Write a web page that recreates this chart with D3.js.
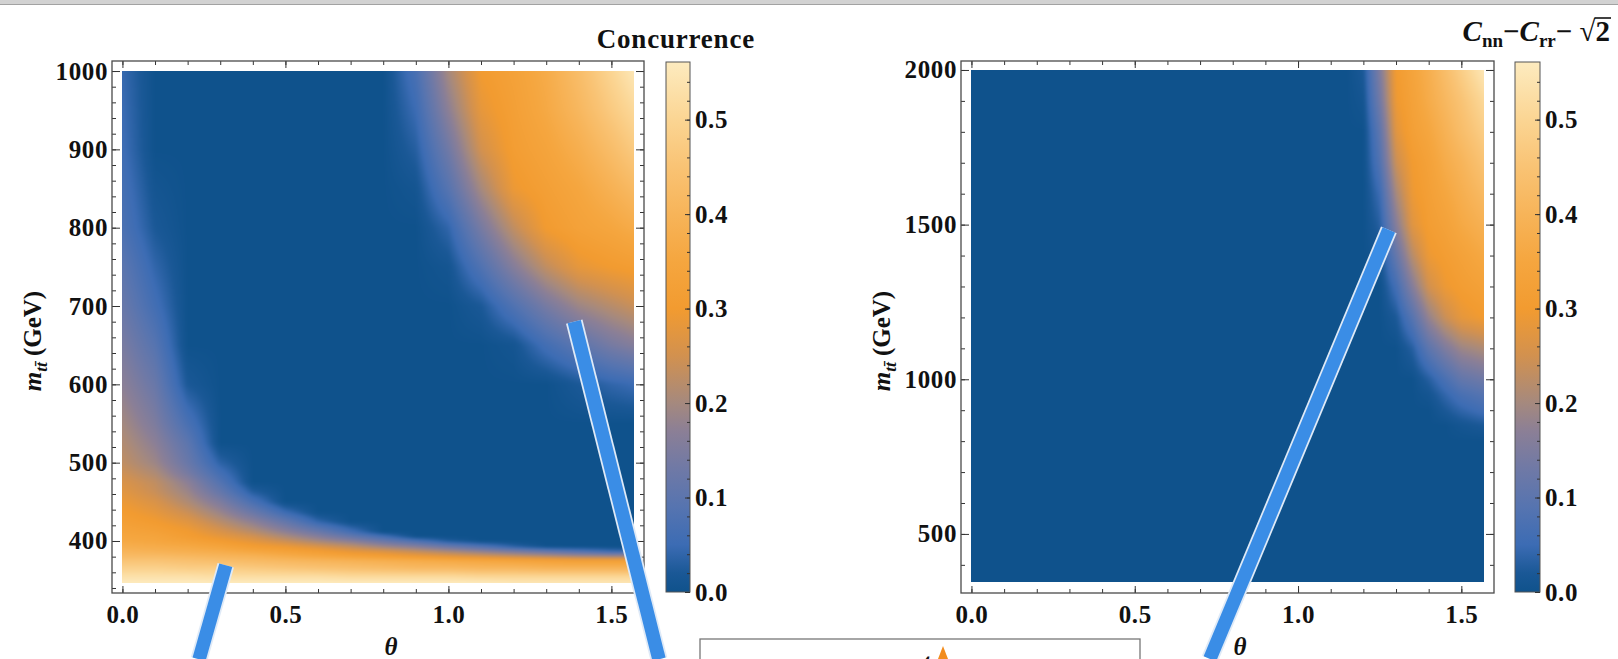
<!DOCTYPE html>
<html>
<head>
<meta charset="utf-8">
<script src="https://cdn.jsdelivr.net/npm/d3@7"></script>
<style>
body{margin:0;background:#fff;overflow:hidden}
svg text{font-family:"Liberation Serif","Times New Roman",serif;font-weight:bold;fill:#111}
.tick text{font-size:25px;letter-spacing:0.6px}
.tick line{stroke:#333}
</style>
</head>
<body>
<svg id="fig" width="1618" height="659"></svg>
<script>
// ---- values ----
var thetaLeft=[0,0.1,0.2,0.3,0.4,0.5,0.6,0.7,0.8,0.9,1.0,1.1,1.2,1.3,1.4,1.5,1.5708]
var massLeft=[346,355,365,375,381,387,393,400,406,412,425,437,450,462,475,487,500,525,550,600,650,700,750,800,850,900,950,1000]
// concurrence, one row per mass (low to high), one column per theta
var concurrence=[
 [.56,.56,.56,.56,.56,.56,.56,.56,.56,.56,.56,.56,.55,.55,.55,.55,.55],
 [.53,.53,.53,.52,.52,.52,.52,.51,.51,.51,.51,.50,.50,.50,.50,.50,.50],
 [.49,.49,.48,.48,.47,.46,.45,.44,.43,.42,.42,.41,.41,.40,.40,.40,.40],
 [.45,.45,.44,.43,.42,.41,.40,.39,.38,.37,.36,.35,.34,.33,.32,.32,.32],
 [.42,.42,.41,.40,.39,.37,.35,.33,.31,.29,.27,.25,.23,.21,.19,.18,.18],
 [.40,.39,.38,.37,.35,.33,.31,.28,.26,.23,.20,.17,.14,.11,.08,.05,.04],
 [.38,.37,.36,.34,.31,.29,.26,.23,.19,.16,.12,.08,.035,0,0,0,0],
 [.36,.35,.33,.305,.275,.24,.20,.165,.12,.075,.025,0,0,0,0,0,0],
 [.35,.34,.31,.28,.25,.205,.16,.11,.06,0,0,0,0,0,0,0,0],
 [.34,.325,.30,.26,.22,.17,.12,.06,0,0,0,0,0,0,0,0,0],
 [.32,.30,.27,.22,.17,.11,.04,0,0,0,0,0,0,0,0,0,0],
 [.305,.28,.24,.185,.12,.05,0,0,0,0,0,0,0,0,0,0,0],
 [.29,.26,.21,.15,.07,0,0,0,0,0,0,0,0,0,0,0,0],
 [.275,.24,.19,.115,.03,0,0,0,0,0,0,0,0,0,0,0,0],
 [.26,.23,.17,.085,0,0,0,0,0,0,0,0,0,0,0,0,0],
 [.245,.21,.14,.06,0,0,0,0,0,0,0,0,0,0,0,0,0],
 [.23,.19,.12,.035,0,0,0,0,0,0,0,0,0,0,0,0,0],
 [.215,.17,.10,0,0,0,0,0,0,0,0,0,0,0,0,0,0],
 [.20,.15,.07,0,0,0,0,0,0,0,0,0,0,0,0,0,0],
 [.17,.12,.02,0,0,0,0,0,0,0,0,0,0,0,.02,.04,.05],
 [.145,.09,0,0,0,0,0,0,0,0,0,0,.01,.06,.10,.14,.16],
 [.12,.06,0,0,0,0,0,0,0,0,0,.02,.08,.14,.19,.22,.24],
 [.10,.04,0,0,0,0,0,0,0,0,.01,.08,.16,.23,.28,.30,.31],
 [.075,.02,0,0,0,0,0,0,0,0,.04,.14,.23,.30,.33,.35,.37],
 [.065,.01,0,0,0,0,0,0,0,.01,.09,.20,.29,.32,.35,.39,.42],
 [.055,0,0,0,0,0,0,0,0,.03,.13,.25,.31,.34,.38,.43,.47],
 [.05,0,0,0,0,0,0,0,0,.05,.17,.28,.32,.36,.41,.47,.51],
 [.045,0,0,0,0,0,0,0,0,.07,.20,.30,.33,.37,.43,.50,.55]
]

var thetaRight=[0,1.0,1.1,1.15,1.2,1.25,1.3,1.35,1.4,1.45,1.5,1.5708]
var massRight=[346,800,850,900,950,1000,1100,1200,1300,1400,1500,1600,1700,1800,1900,2000]
// Cnn - Crr - sqrt(2), positive part
var bellValues=[
 [0,0,0,0,0,0,0,0,0,0,0,0],
 [0,0,0,0,0,0,0,0,0,0,0,0],
 [0,0,0,0,0,0,0,0,0,0,.01,.02],
 [0,0,0,0,0,0,0,0,0,.02,.04,.06],
 [0,0,0,0,0,0,0,0,.01,.04,.07,.09],
 [0,0,0,0,0,0,0,0,.03,.07,.11,.13],
 [0,0,0,0,0,0,0,.03,.10,.15,.19,.21],
 [0,0,0,0,0,0,.02,.09,.18,.24,.28,.30],
 [0,0,0,0,0,0,.06,.16,.25,.29,.31,.33],
 [0,0,0,0,0,.01,.11,.22,.29,.31,.33,.36],
 [0,0,0,0,0,.03,.16,.27,.31,.33,.36,.39],
 [0,0,0,0,0,.05,.20,.29,.32,.35,.38,.42],
 [0,0,0,0,0,.08,.24,.30,.33,.37,.40,.45],
 [0,0,0,0,0,.10,.27,.32,.35,.39,.43,.48],
 [0,0,0,0,.01,.13,.29,.33,.37,.41,.45,.51],
 [0,0,0,0,.02,.15,.30,.34,.38,.43,.48,.55]
]

var xTicks=[0,0.5,1.0,1.5]
var yTicksLeft=[400,500,600,700,800,900,1000]
var yTicksRight=[500,1000,1500,2000]
var barTicks=[0,0.1,0.2,0.3,0.4,0.5]
var barMax=0.561
var barStops=[0,0.02,0.05,0.09,0.13,0.17,0.2,0.25,0.3,0.35,0.4,0.45,0.5,0.561]
var barColors=["#0f528c","#1a5896","#3c6cb4","#5674b0","#6f79a6","#8b7f96","#a5897e","#d2914f","#f29b30","#f5a63f","#f7b459","#f9c374","#fbd593","#fdebbf"]

// callout bars, in (theta, mass) of the panel they start in
var callouts=[
 {panel:0,from:[0.317,369],to:[0.235,249]},
 {panel:0,from:[1.386,680],to:[1.646,249]},
 {panel:1,from:[1.278,1483],to:[0.730,96]}
]

// ---- drawing ----
var svg=d3.select("#fig")
svg.append("rect").attr("width",1618).attr("height",659).attr("fill","#fff")
svg.append("rect").attr("width",1618).attr("height",4).attr("fill","#d2d2d2")
svg.append("line").attr("x1",0).attr("x2",1618).attr("y1",4.5).attr("y2",4.5)
    .attr("stroke","#a2a2a2").attr("stroke-width",1)

var colorScale=d3.scaleLinear().domain(barStops).range(barColors)
    .interpolate(d3.interpolateRgb).clamp(true)
var lut=d3.range(1024).map(function(k){return d3.rgb(colorScale(k/1023*barMax))})

var panels=[
 {frame:[112,61,644,593],yDom:[333.6,1012.8],thetas:thetaLeft,masses:massLeft,grid:concurrence,
  yMajor:yTicksLeft,yMinor:d3.range(340,1001,20),bar:[666,62,24,530],labX:41,thetaX:391},
 {frame:[961,61,1494,593],yDom:[309,2029],thetas:thetaRight,masses:massRight,grid:bellValues,
  yMajor:yTicksRight,yMinor:d3.range(400,2001,100),bar:[1515,62,25,530],labX:890,thetaX:1240}
]

var locate=function(arr,v)
    {
        var i=d3.bisectRight(arr,v)-1
        i=Math.max(0,Math.min(arr.length-2,i))
        var t=(v-arr[i])/(arr[i+1]-arr[i])
        return [i,Math.max(0,Math.min(1,t))]
    }

var drawHeat=function(g,xs,ys,p)
    {
        var th=p.thetas, ms=p.masses, grid=p.grid, M=8
        var xa=Math.round(xs(th[0])), xb=Math.round(xs(th[th.length-1]))
        var ya=Math.round(ys(ms[ms.length-1])), yb=Math.round(ys(ms[0]))
        var w=xb-xa, h=yb-ya, W=w+2*M, H=h+2*M
        var cv=document.createElement("canvas")
        cv.width=W; cv.height=H
        var ctx=cv.getContext("2d")
        var img=ctx.createImageData(W,H)
        var cols=[]
        for(var i=0;i<W;i++) cols.push(locate(th,xs.invert(xa-M+i+0.5)))
        for(var j=0;j<H;j++)
        {
            var r=locate(ms,ys.invert(ya-M+j+0.5))
            var lo=grid[r[0]], hi=grid[r[0]+1], fr=r[1]
            for(var i=0;i<W;i++)
            {
                var c=cols[i][0], fc=cols[i][1]
                var a=lo[c]+(lo[c+1]-lo[c])*fc
                var b=hi[c]+(hi[c+1]-hi[c])*fc
                var v=a+(b-a)*fr
                var k=Math.max(0,Math.min(1023,Math.round(v/barMax*1023)))
                var col=lut[k], o=(j*W+i)*4
                img.data[o]=col.r; img.data[o+1]=col.g; img.data[o+2]=col.b; img.data[o+3]=255
            }
        }
        ctx.putImageData(img,0,0)
        // soften a little, like the screenshot
        var out=document.createElement("canvas")
        out.width=w; out.height=h
        var octx=out.getContext("2d")
        octx.filter="blur(1.6px)"
        octx.drawImage(cv,-M,-M)
        g.append("image").attr("x",xa).attr("y",ya).attr("width",w).attr("height",h)
            .attr("preserveAspectRatio","none").attr("href",out.toDataURL())
    }

var cleanAxis=function(sel)
    {
        sel.attr("font-size",null).attr("font-family",null).attr("color","#333")
        sel.select(".domain").remove()
    }

var defs=svg.append("defs")
var grad=defs.append("linearGradient").attr("id","barGrad")
    .attr("x1",0).attr("x2",0).attr("y1",1).attr("y2",0)
grad.selectAll("stop").data(barStops).enter().append("stop")
    .attr("offset",function(d){return d/barMax})
    .attr("stop-color",function(d,i){return barColors[i]})

panels.forEach(function(p,pi)
    {
        var f=p.frame
        var xs=d3.scaleLinear().domain([-0.032,1.6]).range([f[0],f[2]])
        var ys=d3.scaleLinear().domain(p.yDom).range([f[3],f[1]])
        p.xs=xs; p.ys=ys
        var g=svg.append("g")
        drawHeat(g,xs,ys,p)

        var xMinor=d3.range(0,1.55,0.1)
        // bottom
        g.append("g").attr("transform","translate(0,"+f[3]+")")
            .call(d3.axisBottom(xs).tickValues(xMinor).tickSizeInner(-4).tickSizeOuter(0).tickFormat(""))
            .call(cleanAxis)
        g.append("g").attr("transform","translate(0,"+f[3]+")")
            .call(d3.axisBottom(xs).tickValues(xTicks).tickSizeInner(-7).tickSizeOuter(0)
                .tickPadding(12).tickFormat(d3.format(".1f")))
            .call(cleanAxis)
        // top
        g.append("g").attr("transform","translate(0,"+f[1]+")")
            .call(d3.axisTop(xs).tickValues(xMinor).tickSizeInner(-4).tickSizeOuter(0).tickFormat(""))
            .call(cleanAxis)
        g.append("g").attr("transform","translate(0,"+f[1]+")")
            .call(d3.axisTop(xs).tickValues(xTicks).tickSizeInner(-7).tickSizeOuter(0).tickFormat(""))
            .call(cleanAxis)
        // left
        g.append("g").attr("transform","translate("+f[0]+",0)")
            .call(d3.axisLeft(ys).tickValues(p.yMinor).tickSizeInner(-4).tickSizeOuter(0).tickFormat(""))
            .call(cleanAxis)
        g.append("g").attr("transform","translate("+f[0]+",0)")
            .call(d3.axisLeft(ys).tickValues(p.yMajor).tickSizeInner(-8).tickSizeOuter(0)
                .tickPadding(4).tickFormat(d3.format("d")))
            .call(cleanAxis)
        // right
        g.append("g").attr("transform","translate("+f[2]+",0)")
            .call(d3.axisRight(ys).tickValues(p.yMinor).tickSizeInner(-4).tickSizeOuter(0).tickFormat(""))
            .call(cleanAxis)
        g.append("g").attr("transform","translate("+f[2]+",0)")
            .call(d3.axisRight(ys).tickValues(p.yMajor).tickSizeInner(-8).tickSizeOuter(0).tickFormat(""))
            .call(cleanAxis)

        g.append("rect").attr("x",f[0]).attr("y",f[1]).attr("width",f[2]-f[0]).attr("height",f[3]-f[1])
            .attr("fill","none").attr("stroke","#4a4a4a").attr("stroke-width",1.3)

        // colour bar
        var b=p.bar
        var bs=d3.scaleLinear().domain([0,barMax]).range([b[1]+b[3],b[1]])
        g.append("rect").attr("x",b[0]).attr("y",b[1]).attr("width",b[2]).attr("height",b[3])
            .attr("fill","url(#barGrad)").attr("stroke","#555").attr("stroke-width",1)
        g.append("g").attr("transform","translate("+(b[0]+b[2])+",0)")
            .call(d3.axisRight(bs).tickValues(d3.range(0.02,0.55,0.02)).tickSizeInner(-3).tickSizeOuter(0).tickFormat(""))
            .call(cleanAxis)
        g.append("g").attr("transform","translate("+(b[0]+b[2])+",0)")
            .call(d3.axisRight(bs).tickValues(barTicks).tickSizeInner(-5).tickSizeOuter(0)
                .tickPadding(5).tickFormat(d3.format(".1f")))
            .call(cleanAxis)

        // axis labels
        var lab=g.append("text").attr("transform","translate("+p.labX+",341) rotate(-90)")
            .attr("text-anchor","middle").style("font-size","25px")
        lab.append("tspan").style("font-style","italic").text("m")
        lab.append("tspan").style("font-style","italic").style("font-size","17px").attr("dy",6).text("tt\u0304")
        lab.append("tspan").attr("dy",-6).text(" (GeV)")

        g.append("text").attr("x",p.thetaX).attr("y",655).attr("text-anchor","middle")
            .style("font-size","25px").style("font-style","italic").text("\u03b8")
    })

// titles
svg.append("text").attr("x",755).attr("y",48).attr("text-anchor","end")
    .style("font-size","27px").style("letter-spacing","0.8px").text("Concurrence")

var t2=svg.append("text").attr("x",1610).attr("y",41).attr("text-anchor","end").style("font-size","29px")
t2.append("tspan").style("font-style","italic").text("C")
t2.append("tspan").style("font-size","19px").attr("dy",6).text("nn")
t2.append("tspan").attr("dy",-6).text("\u2212")
t2.append("tspan").style("font-style","italic").text("C")
t2.append("tspan").style("font-size","19px").attr("dy",6).text("rr")
t2.append("tspan").attr("dy",-6).text("\u2212 \u221a")
var two=t2.append("tspan").text("2")
var bb=two.node().getBBox()
svg.append("line").attr("x1",bb.x-1).attr("x2",bb.x+bb.width+1)
    .attr("y1",bb.y+3).attr("y2",bb.y+3).attr("stroke","#111").attr("stroke-width",1.6)

// bottom inset box
var box=svg.append("g")
box.append("rect").attr("x",700).attr("y",639).attr("width",440).attr("height",40)
    .attr("fill","#fff").attr("stroke","#777").attr("stroke-width",1.3)
box.append("text").attr("x",923).attr("y",671).style("font-size","26px").style("font-style","italic").text("t")
box.append("path").attr("d","M943,646L948,659L938,659Z").attr("fill","#f28c1e")

// callout bars
callouts.forEach(function(c)
    {
        var p=panels[c.panel]
        var x1=p.xs(c.from[0]), y1=p.ys(c.from[1]), x2=p.xs(c.to[0]), y2=p.ys(c.to[1])
        svg.append("line").attr("x1",x1).attr("y1",y1).attr("x2",x2).attr("y2",y2)
            .attr("stroke","#dfeaf7").attr("stroke-width",17)
        svg.append("line").attr("x1",x1).attr("y1",y1).attr("x2",x2).attr("y2",y2)
            .attr("stroke","#3a8de6").attr("stroke-width",13.5)
    })
</script>
</body>
</html>
